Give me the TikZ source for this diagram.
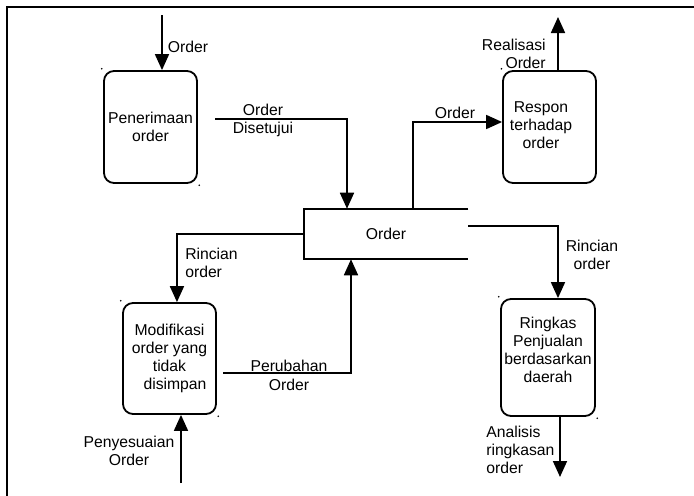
\documentclass[tikz,border=0pt]{standalone}
\usepackage{fontspec}
\setmainfont{Liberation Sans}
\usetikzlibrary{arrows.meta}

\tikzset{
  base/.style={font=\fontsize{11.8pt}{13.6pt}\selectfont},
  procbox/.style={base, draw, line width=1.35pt, rounded corners=7.5pt,
    minimum width=69.75pt, minimum height=84pt, align=center, inner sep=0pt},
  storebox/.style={base, minimum width=123pt, minimum height=37.5pt, inner sep=0pt},
  flow/.style={line width=1.35pt, -{Triangle[length=12pt,width=10.5pt]}},
  wire/.style={line width=1.35pt},
  lbl/.style={base, inner sep=0pt},
  cornerdot/.style={fill=black},
}

\begin{document}
\begin{tikzpicture}[x=0.75pt,y=-0.75pt]
  \useasboundingbox (0,0) rectangle (694,496);

  % outer frame
  \draw[line width=1.5pt] (7,496) -- (7,6.5) -- (694,6.5);

  % processes
  \node[procbox] (pen) at (150.5,127) {Penerimaan\\order};
  \node[procbox] (respon) at (549.5,127) {};
  \node[lbl, align=center] (responText) at (541,125.5) {Respon\\terhadap\\order};
  \node[procbox, minimum height=83.25pt] (modif) at (169.5,358.5)
    {Modifikasi\\order yang\\tidak\hspace*{9.75pt}\\\hspace*{8.25pt}disimpan};
  \node[procbox, minimum width=70.5pt, minimum height=87.75pt] (ringkas) at (548,357.5) {};
  \node[lbl, align=center] (ringkasText) at (548,350)
    {Ringkas\\Penjualan\\berdasarkan\\daerah};

  % corner marks
  \fill[cornerdot] ([shift={(-1pt,1pt)}]pen.north west) circle (0.7pt);
  \fill[cornerdot] ([shift={(1pt,-1pt)}]pen.south east) circle (0.7pt);
  \fill[cornerdot] ([shift={(-0.5pt,1pt)}]respon.north west) circle (0.7pt);
  \fill[cornerdot] ([shift={(-1pt,1pt)}]modif.north west) circle (0.7pt);
  \fill[cornerdot] ([shift={(1pt,-1pt)}]modif.south east) circle (0.7pt);
  \fill[cornerdot] ([shift={(-1pt,1pt)}]ringkas.north west) circle (0.7pt);
  \fill[cornerdot] ([shift={(1pt,-1pt)}]ringkas.south east) circle (0.7pt);

  % data store
  \node[storebox] (store) at (386,234) {Order};
  \draw[wire] (store.north east) -- (store.north west) -- (store.south west) -- (store.south east);

  % free ends
  \coordinate (orderIn) at (162,15);
  \coordinate (disetujui) at (215,119);
  \coordinate (realisasi) at (558,17);
  \coordinate (analisis) at (560,477);
  \coordinate (perubahan) at (223,373);
  \coordinate (penyesuaian) at (181,483);

  % flows
  \draw[flow] (orderIn) -- (orderIn |- pen.north);
  \draw[flow] (disetujui) -| ([xshift=-29.25pt]store.north);
  \draw[flow] ([xshift=20.25pt]store.north) |- ([yshift=3.75pt]respon.west);
  \draw[flow] (realisasi |- respon.north) -- (realisasi);
  \draw[flow] ([yshift=6pt]store.east) -| ([xshift=7.5pt]ringkas.north);
  \draw[flow] (analisis |- ringkas.south) -- (analisis);
  \draw[flow] (store.west) -| ([xshift=5.6pt]modif.north);
  \draw[flow] (perubahan) -| ([xshift=-26.25pt]store.south);
  \draw[flow] (penyesuaian) -- (penyesuaian |- modif.south);

  % flow labels
  \node[lbl] (lOrderIn) at (188,47) {Order};
  \node[lbl, align=center] (lDisetujui) at (263,120.5) {Order\\Disetujui};
  \node[lbl] (lOrderRespon) at (455,113) {Order};
  \node[lbl, align=right, anchor=east] (lRealisasi) at (546,53.5) {Realisasi\\Order};
  \node[lbl, align=center] (lRincianR) at (592,254.5) {Rincian\\order};
  \node[lbl, align=left, anchor=west] (lRincianL) at (185,262.5) {Rincian\\order};
  \node[lbl, align=center, anchor=base] (lPerubahan) at (289,390) {Perubahan\\Order};
  \node[lbl, align=center] (lPenyesuaian) at (129,451) {Penyesuaian\\Order};
  \node[lbl, align=left, anchor=west] (lAnalisis) at (486,450) {Analisis\\ringkasan\\order};
\end{tikzpicture}
\end{document}
